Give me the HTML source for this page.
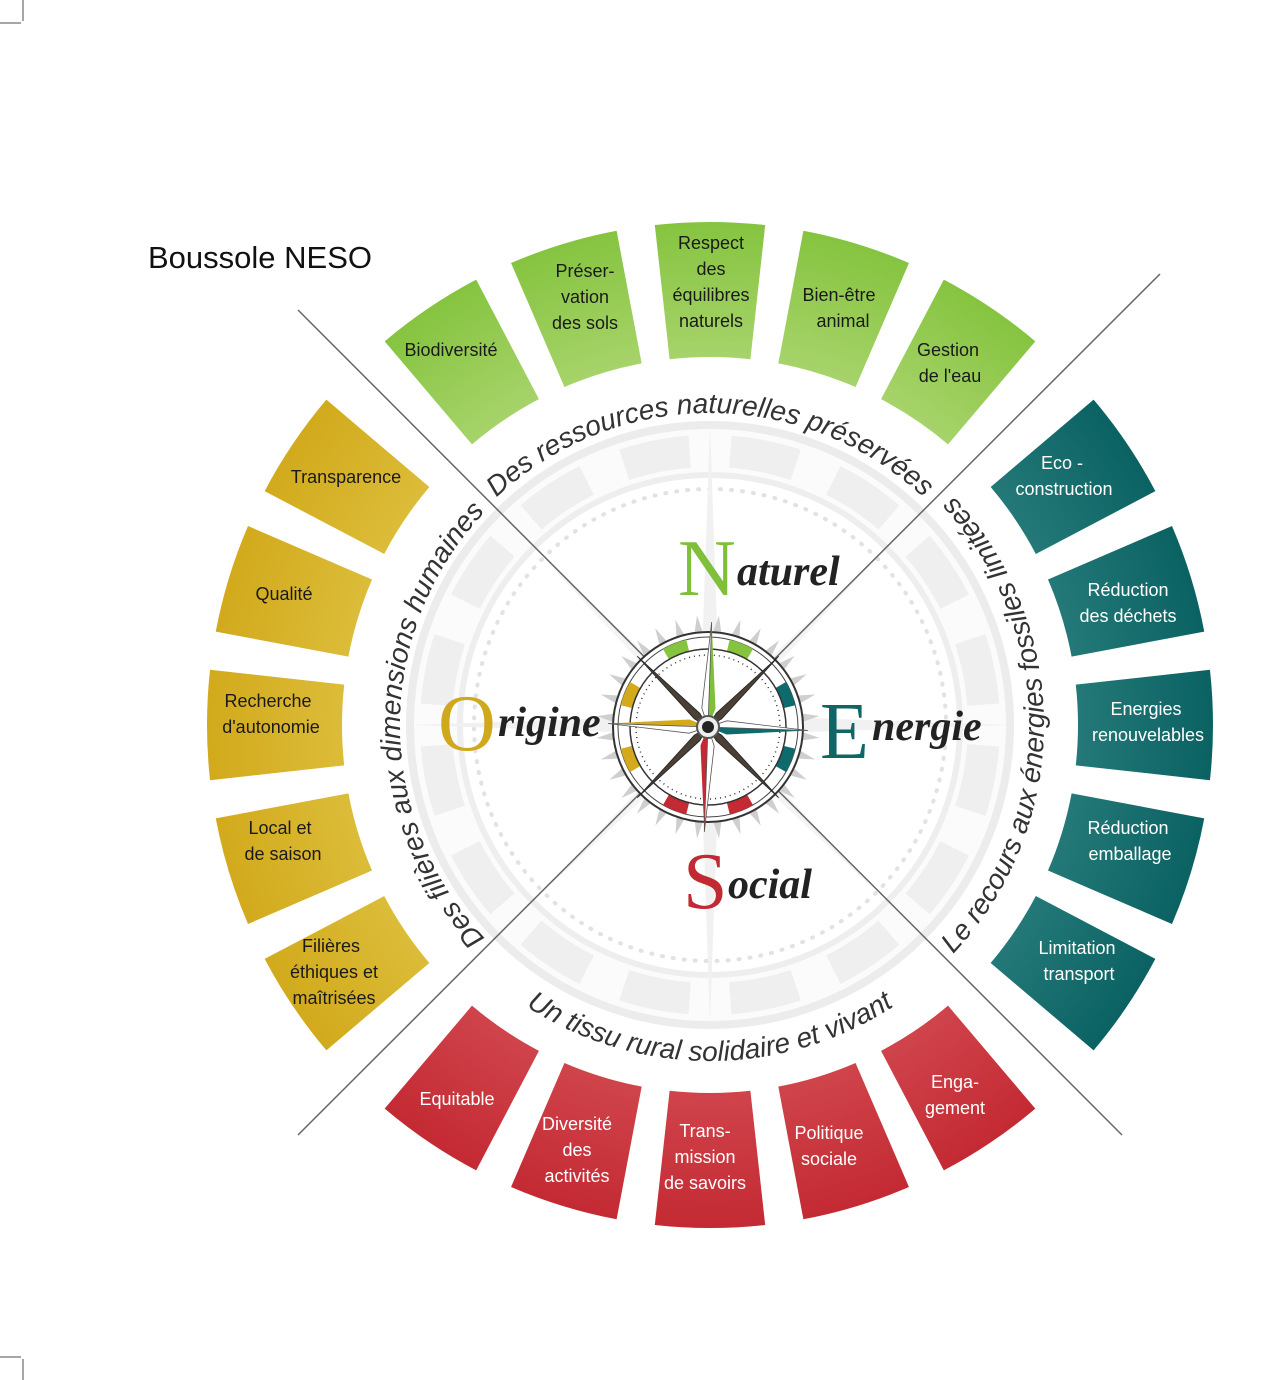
<!DOCTYPE html>
<html><head><meta charset="utf-8">
<style>
html,body{margin:0;padding:0;background:#fff;}
svg{display:block;}
.lab{font-family:"Liberation Sans",sans-serif;font-size:18px;text-anchor:middle;}
.dk{fill:#1a1a1a;}
.wh{fill:#fff;}
.arc{font-family:"Liberation Sans",sans-serif;font-style:italic;font-size:28px;fill:#333;}
.big{font-family:"Liberation Serif",serif;}
</style></head>
<body>
<svg id="s" width="1280" height="1380" viewBox="0 0 1280 1380" xmlns="http://www.w3.org/2000/svg">
<defs>
<radialGradient id="gG" gradientUnits="userSpaceOnUse" cx="710" cy="725" r="502"><stop offset="0.72" stop-color="#a8d46c"/><stop offset="1" stop-color="#86c440"/></radialGradient>
<radialGradient id="gY" gradientUnits="userSpaceOnUse" cx="710" cy="725" r="502"><stop offset="0.72" stop-color="#dcbd3a"/><stop offset="1" stop-color="#d2aa1c"/></radialGradient>
<radialGradient id="gT" gradientUnits="userSpaceOnUse" cx="710" cy="725" r="502"><stop offset="0.72" stop-color="#257a79"/><stop offset="1" stop-color="#0b6262"/></radialGradient>
<radialGradient id="gR" gradientUnits="userSpaceOnUse" cx="710" cy="725" r="502"><stop offset="0.72" stop-color="#d0454c"/><stop offset="1" stop-color="#c42a33"/></radialGradient>
</defs>
<line x1="23" y1="0" x2="23" y2="21" stroke="#888" stroke-width="1.5"/>
<line x1="0" y1="23" x2="21" y2="23" stroke="#888" stroke-width="1.5"/>
<line x1="23" y1="1359" x2="23" y2="1380" stroke="#888" stroke-width="1.5"/>
<line x1="0" y1="1357" x2="21" y2="1357" stroke="#888" stroke-width="1.5"/>

<g id="bg"></g>
<g id="segs"></g>

<text x="148" y="268" font-family="Liberation Sans,sans-serif" font-size="31" fill="#111">Boussole NESO</text>

<line x1="298" y1="310" x2="1122" y2="1135" stroke="#666" stroke-width="1.5"/>
<line x1="1160" y1="274" x2="298" y2="1135" stroke="#666" stroke-width="1.5"/>

<g id="arcs"></g>
<text class="arc"><textPath href="#aTop" startOffset="50%" text-anchor="middle">Des ressources naturelles préservées</textPath></text>
<text class="arc"><textPath href="#aLeft" startOffset="50%" text-anchor="middle">Des filières aux dimensions humaines</textPath></text>
<text class="arc"><textPath href="#aRight" startOffset="50%" text-anchor="middle">Le recours aux énergies fossiles limitées</textPath></text>
<text class="arc"><textPath href="#aBot" startOffset="50%" text-anchor="middle">Un tissu rural solidaire et vivant</textPath></text>

<g id="compass"></g>

<text class="big" x="678" y="595" font-size="80" fill="#7fbf3a">N</text>
<text class="big" x="737" y="585" font-size="42" font-style="italic" font-weight="bold" fill="#222">aturel</text>
<text class="big" x="820" y="758" font-size="80" fill="#0e6666">E</text>
<text class="big" x="872" y="740" font-size="42" font-style="italic" font-weight="bold" fill="#222">nergie</text>
<text class="big" x="438" y="750" font-size="80" fill="#cfa81c">O</text>
<text class="big" x="498" y="736" font-size="42" font-style="italic" font-weight="bold" fill="#222">rigine</text>
<text class="big" x="683" y="908" font-size="80" fill="#c12a33">S</text>
<text class="big" x="728" y="898" font-size="42" font-style="italic" font-weight="bold" fill="#222">ocial</text>

<text class="lab dk" x="451" y="356">Biodiversité</text>
<text class="lab dk" x="585" y="277">Préser-<tspan x="585" dy="26">vation</tspan><tspan x="585" dy="26">des sols</tspan></text>
<text class="lab dk" x="711" y="249">Respect<tspan x="711" dy="26">des</tspan><tspan x="711" dy="26">équilibres</tspan><tspan x="711" dy="26">naturels</tspan></text>
<text class="lab dk" x="839" y="301">Bien-être<tspan x="843" dy="26">animal</tspan></text>
<text class="lab dk" x="948" y="356">Gestion<tspan x="950" dy="26">de l'eau</tspan></text>
<text class="lab wh" x="1062" y="469">Eco -<tspan x="1064" dy="26">construction</tspan></text>
<text class="lab wh" x="1128" y="596">Réduction<tspan x="1128" dy="26">des déchets</tspan></text>
<text class="lab wh" x="1146" y="715">Energies<tspan x="1148" dy="26">renouvelables</tspan></text>
<text class="lab wh" x="1128" y="834">Réduction<tspan x="1130" dy="26">emballage</tspan></text>
<text class="lab wh" x="1077" y="954">Limitation<tspan x="1079" dy="26">transport</tspan></text>
<text class="lab dk" x="346" y="483">Transparence</text>
<text class="lab dk" x="284" y="600">Qualité</text>
<text class="lab dk" x="268" y="707">Recherche<tspan x="271" dy="26">d'autonomie</tspan></text>
<text class="lab dk" x="280" y="834">Local et<tspan x="283" dy="26">de saison</tspan></text>
<text class="lab dk" x="331" y="952">Filières<tspan x="334" dy="26">éthiques et</tspan><tspan x="334" dy="26">maîtrisées</tspan></text>
<text class="lab wh" x="457" y="1105">Equitable</text>
<text class="lab wh" x="577" y="1130">Diversité<tspan x="577" dy="26">des</tspan><tspan x="577" dy="26">activités</tspan></text>
<text class="lab wh" x="705" y="1137">Trans-<tspan x="705" dy="26">mission</tspan><tspan x="705" dy="26">de savoirs</tspan></text>
<text class="lab wh" x="829" y="1139">Politique<tspan x="829" dy="26">sociale</tspan></text>
<text class="lab wh" x="955" y="1088">Enga-<tspan x="955" dy="26">gement</tspan></text>

<script>
(function(){
var NS="http://www.w3.org/2000/svg",cx=710,cy=725;
function P(a,r){var t=a*Math.PI/180;return [cx+r*Math.cos(t),cy+r*Math.sin(t)];}
function el(tag,attrs,parent){var e=document.createElementNS(NS,tag);for(var k in attrs)e.setAttribute(k,attrs[k]);parent.appendChild(e);return e;}
function sector(a0,a1,r0,r1){var p1=P(a0,r0),p2=P(a0,r1),p3=P(a1,r1),p4=P(a1,r0);
return "M"+p1+" L"+p2+" A"+r1+" "+r1+" 0 0 1 "+p3+" L"+p4+" A"+r0+" "+r0+" 0 0 0 "+p1+"Z";}
var segs=document.getElementById("segs");
var quads=[[270,"url(#gG)"],[0,"url(#gT)"],[90,"url(#gR)"],[180,"url(#gY)"]];
quads.forEach(function(q){[-34,-17,0,17,34].forEach(function(o){var c=q[0]+o;
el("path",{d:sector(c-6.3,c+6.3,368,503),fill:q[1]},segs);});});
var bg=document.getElementById("bg");
el("circle",{cx:cx,cy:cy,r:300,fill:"#fbfbfb",stroke:"#ececec","stroke-width":8},bg);
for(var i=0;i<16;i++){var c=i*22.5+11.25;el("path",{d:sector(c-7,c+7,258,290),fill:"#efefef"},bg);}
el("circle",{cx:cx,cy:cy,r:250,fill:"#fff",stroke:"#eeeeee","stroke-width":6},bg);
el("circle",{cx:cx,cy:cy,r:236,fill:"none",stroke:"#e2e2e2","stroke-width":4,"stroke-dasharray":"1 10","stroke-linecap":"round"},bg);
[0,90,180,270].forEach(function(a){var t=P(a,300),l=P(a+8,60),r=P(a-8,60);
el("path",{d:"M"+t+" L"+l+" L"+cx+","+cy+" L"+r+"Z",fill:"#f1f1f1"},bg);});
[45,135,225,315].forEach(function(a){var t=P(a,230),l=P(a+10,40),r=P(a-10,40);
el("path",{d:"M"+t+" L"+l+" L"+cx+","+cy+" L"+r+"Z",fill:"#f4f4f4"},bg);});
var arcs=document.getElementById("arcs");
function arcPath(id,a0,a1,r,sw){var p0=P(a0,r),p1=P(a1,r);el("path",{id:id,d:"M"+p0+" A"+r+" "+r+" 0 0 "+sw+" "+p1,fill:"none"},arcs);}
arcPath("aTop",-140,-40,312,1);
arcPath("aLeft",130,230,310,1);
arcPath("aRight",50,-50,334,0);
arcPath("aBot",145,35,336,0);
var cp=document.getElementById("compass");var X=708,Y=727;
function Q(a,r){var t=a*Math.PI/180;return [X+r*Math.cos(t),Y+r*Math.sin(t)];}
for(var i=0;i<32;i++){var a=i*11.25+5.6,t=Q(a,112),l=Q(a-2.5,95),r=Q(a+2.5,95);el("path",{d:"M"+t+" L"+l+" L"+r+"Z",fill:"#cfcfcf"},cp);}
el("circle",{cx:X,cy:Y,r:95,fill:"#fff",stroke:"#333","stroke-width":2},cp);
el("circle",{cx:X,cy:Y,r:90,fill:"none",stroke:"#444","stroke-width":1},cp);
var cols={270:"#86c440",0:"#0e6b6b",90:"#c42a33",180:"#d2aa1c"};
[270,0,90,180].forEach(function(q){[-22,22].forEach(function(o){var c=q+o;el("path",{d:"M"+Q(c-8,78)+" L"+Q(c-8,90)+" A90 90 0 0 1 "+Q(c+8,90)+" L"+Q(c+8,78)+" A78 78 0 0 0 "+Q(c-8,78)+"Z",fill:cols[q]},cp);});});
el("circle",{cx:X,cy:Y,r:78,fill:"none",stroke:"#333","stroke-width":1.5},cp);
el("circle",{cx:X,cy:Y,r:72,fill:"none",stroke:"#333","stroke-width":1.5,"stroke-dasharray":"1 4"},cp);
[45,135,225,315].forEach(function(a){var t=Q(a,100),l=Q(a+14,16),r=Q(a-14,16);el("path",{d:"M"+t+" L"+l+" L"+X+","+Y+" L"+r+"Z",fill:"#4a4036",stroke:"#222","stroke-width":0.8},cp);});
[[272,"#7fbf3a",105],[2,"#0e6b6b",100],[92,"#c42a33",105],[182,"#d2aa1c",100]].forEach(function(s){var a=s[0],t=Q(a,s[2]),l=Q(a+20,20),r=Q(a-20,20);
el("path",{d:"M"+t+" L"+l+" L"+X+","+Y+"Z",fill:s[1]},cp);el("path",{d:"M"+t+" L"+r+" L"+X+","+Y+"Z",fill:"#fff",stroke:"#555","stroke-width":0.8},cp);});
el("circle",{cx:X,cy:Y,r:11,fill:"#eee",stroke:"#555","stroke-width":2},cp);
el("circle",{cx:X,cy:Y,r:6,fill:"#222"},cp);
})();
</script>
</svg>
</body></html>
